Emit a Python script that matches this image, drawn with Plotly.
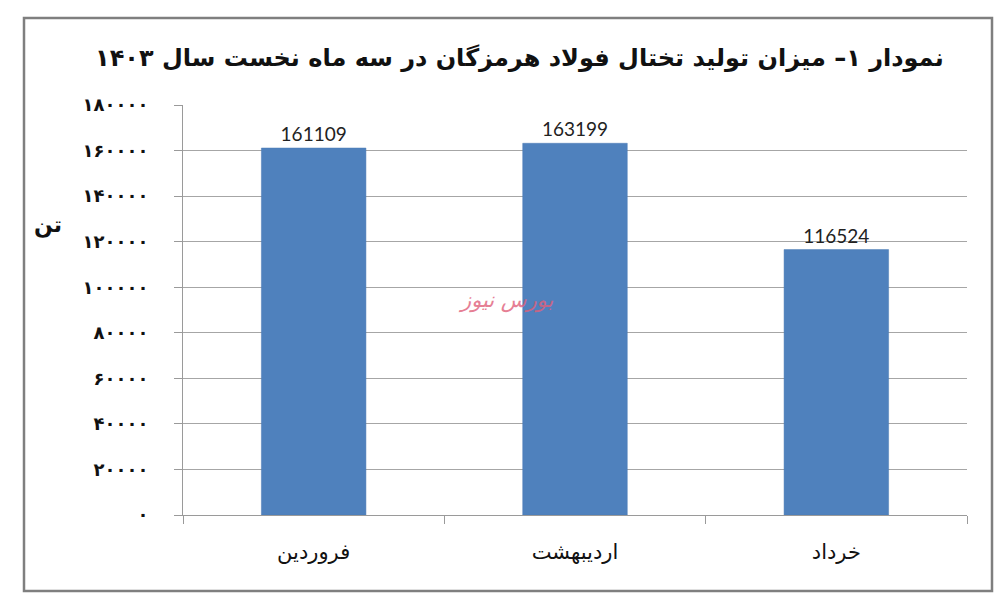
import plotly.graph_objects as go

categories = ["فروردین", "اردیبهشت", "خرداد"]
values = [161109, 163199, 116524]
value_labels = ["161109", "163199", "116524"]
tick_vals = [0, 20000, 40000, 60000, 80000, 100000, 120000, 140000, 160000, 180000]
tick_text = ["۰", "۲۰۰۰۰", "۴۰۰۰۰", "۶۰۰۰۰", "۸۰۰۰۰", "۱۰۰۰۰۰", "۱۲۰۰۰۰", "۱۴۰۰۰۰", "۱۶۰۰۰۰", "۱۸۰۰۰۰"]
title_text = "\u200fنمودار ۱– میزان تولید تختال فولاد هرمزگان در سه ماه نخست سال ۱۴۰۳\u200f"
y_title = "تن"
watermark = "بورس نیوز"

# page has an 8px body margin; work in reference pixel coords, shifted by OFF
OFF = 8
W, H = 1007 - OFF, 597 - OFF
L, R, T, B = 183 - OFF, 967 - OFF, 105 - OFF, 515 - OFF
pw, ph = R - L, B - T

def px(x):
    return (x - OFF - L) / pw

def py(y):
    return (B - (y - OFF)) / ph

fig = go.Figure()
fig.add_trace(go.Bar(
    x=categories, y=values,
    marker=dict(color="#4F81BD", line=dict(color="#4A7AB5", width=0.5)),
    text=value_labels, textposition="outside",
    textfont=dict(family="Lato, Open Sans, sans-serif", size=19, color="#222222"),
    cliponaxis=False,
))

fig.update_layout(
    width=W, height=H,
    margin=dict(l=L, r=W - R, t=T, b=H - B),
    paper_bgcolor="white", plot_bgcolor="white",
    bargap=0.6,
    showlegend=False,
    xaxis=dict(
        showgrid=False, showline=True, linecolor="#9a9a9a", linewidth=1,
        ticks="outside", ticklen=8, tickcolor="#9a9a9a", tickson="boundaries",
        tickfont=dict(family="DejaVu Sans, sans-serif", size=21, color="#111111"),
        ticklabelstandoff=18,
    ),
    yaxis=dict(
        range=[0, 180000], tickvals=tick_vals, ticktext=tick_text,
        showgrid=True, gridcolor="#a6a6a6", gridwidth=1,
        showline=True, linecolor="#9a9a9a", linewidth=1,
        ticks="outside", ticklen=8, tickcolor="#9a9a9a",
        tickfont=dict(family="DejaVu Sans, sans-serif", size=18, color="#111111", weight="bold"),
        ticklabelstandoff=22,
        zeroline=False,
    ),
    shapes=[dict(
        type="rect", xref="paper", yref="paper",
        x0=px(24), x1=px(992), y0=py(591), y1=py(18),
        line=dict(color="#7f7f7f", width=2.5), fillcolor="rgba(0,0,0,0)", layer="below",
    )],
    annotations=[
        dict(text=title_text, xref="paper", yref="paper", x=px(519), y=py(58),
             showarrow=False, xanchor="center", yanchor="middle",
             font=dict(family="DejaVu Sans, sans-serif", size=24, color="#111111", weight="bold")),
        dict(text=y_title, xref="paper", yref="paper", x=px(48), y=py(225),
             showarrow=False, xanchor="center", yanchor="middle",
             font=dict(family="DejaVu Sans, sans-serif", size=22, color="#111111", weight="bold")),
        dict(text=watermark, xref="paper", yref="paper", x=px(505), y=py(300),
             showarrow=False, xanchor="center", yanchor="middle", opacity=0.8,
             font=dict(family="DejaVu Sans, sans-serif", size=21, color="#e0607a", style="italic")),
    ],
)

fig.write_html("out.html")
